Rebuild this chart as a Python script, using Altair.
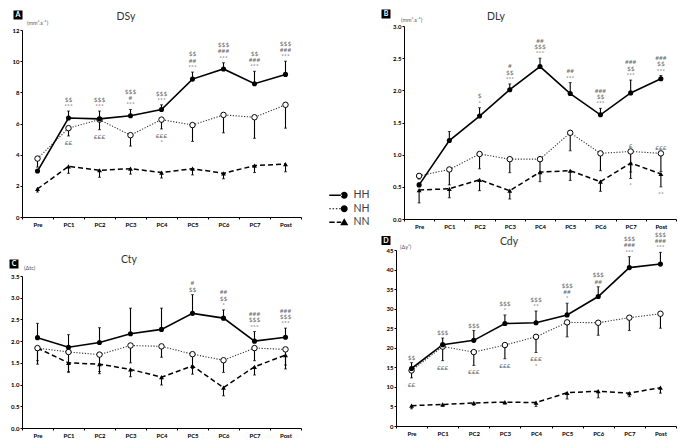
import altair as alt
import pandas as pd

cats = ["Pre", "PC1", "PC2", "PC3", "PC4", "PC5", "PC6", "PC7", "Post"]
groups = ["HH", "NH", "NN"]

# ---- Panel A : DSy (mm2.s-1)
dsy_hh    = [2.95, 6.35, 6.30, 6.50, 6.90, 8.85, 9.50, 8.55, 9.15]
dsy_hh_hi = [3.05, 6.80, 6.80, 6.90, 7.20, 9.30, 9.90, 9.35, 10.00]
dsy_nh    = [3.75, 5.70, 6.25, 5.25, 6.25, 5.90, 6.55, 6.40, 7.20]
dsy_nh_lo = [3.20, 5.20, 5.60, 4.55, 5.65, 4.85, 5.40, 5.05, 5.70]
dsy_nn    = [1.80, 3.25, 3.00, 3.10, 2.85, 3.10, 2.80, 3.30, 3.40]
dsy_nn_lo = [1.60, 2.80, 2.55, 2.75, 2.50, 2.70, 2.45, 2.85, 2.90]
dsy_hh_sig = {"PC1": ["***", "$$"], "PC2": ["***", "$$$"], "PC3": ["***", "#", "$$$"],
              "PC4": ["***", "$$$"], "PC5": ["***", "##", "$$"], "PC6": ["***", "###", "$$$"],
              "PC7": ["***", "###", "$$"], "Post": ["***", "###", "$$$"]}
dsy_nh_sig = {"PC1": ["££"], "PC2": ["£££"], "PC4": ["£££", "*"]}

# ---- Panel B : DLy (mm2.s-1)
dly_hh    = [0.53, 1.22, 1.60, 2.01, 2.37, 1.95, 1.62, 1.96, 2.18]
dly_hh_hi = [0.56, 1.36, 1.73, 2.10, 2.50, 2.12, 1.72, 2.16, 2.23]
dly_nh    = [0.67, 0.77, 1.01, 0.93, 0.93, 1.34, 1.02, 1.05, 1.02]
dly_nh_lo = [0.62, 0.53, 0.78, 0.72, 0.72, 1.06, 0.75, 0.73, 0.74]
dly_nn    = [0.45, 0.47, 0.61, 0.44, 0.73, 0.75, 0.58, 0.87, 0.70]
dly_nn_lo = [0.25, 0.33, 0.44, 0.31, 0.58, 0.60, 0.43, 0.63, 0.50]
dly_hh_sig = {"PC2": ["*", "$"], "PC3": ["***", "$$", "#"], "PC4": ["***", "$$$", "##"],
              "PC5": ["***", "##"], "PC6": ["***", "$$", "###"], "PC7": ["***", "$$", "###"],
              "Post": ["***", "$$", "###"]}
dly_nh_sig_up = {"PC7": ["£"], "Post": ["£££"]}
dly_nn_sig = {"PC7": ["*"], "Post": ["**"]}

# ---- Panel C : Cty
cty_hh    = [2.08, 1.86, 1.97, 2.17, 2.27, 2.64, 2.53, 2.00, 2.09]
cty_hh_hi = [2.41, 2.15, 2.31, 2.76, 2.76, 3.07, 2.72, 2.22, 2.30]
cty_nh    = [1.84, 1.75, 1.69, 1.90, 1.88, 1.70, 1.56, 1.84, 1.81]
cty_nh_lo = [1.47, 1.30, 1.30, 1.50, 1.63, 1.37, 1.28, 1.55, 1.36]
cty_nn    = [1.84, 1.50, 1.47, 1.35, 1.17, 1.43, 0.93, 1.41, 1.68]
cty_nn_lo = [1.55, 1.28, 1.25, 1.18, 0.99, 1.24, 0.74, 1.22, 1.45]
cty_hh_sig = {"PC5": ["$$", "#"], "PC6": ["*", "$$", "##"], "PC7": ["***", "$$$", "###"],
              "Post": ["***", "$$$", "###"]}

# ---- Panel D : Cdy
cdy_hh    = [14.7, 20.8, 21.9, 26.2, 26.4, 28.4, 33.1, 40.5, 41.4]
cdy_hh_hi = [16.2, 22.5, 24.4, 28.4, 29.4, 31.4, 35.6, 43.3, 44.4]
cdy_nh    = [14.2, 20.3, 18.9, 20.7, 22.8, 26.5, 26.4, 27.7, 28.7]
cdy_nh_lo = [12.3, 16.7, 15.5, 17.2, 18.8, 22.8, 23.2, 24.4, 25.0]
cdy_nn    = [5.2, 5.5, 5.9, 6.1, 6.0, 8.5, 8.9, 8.4, 9.8]
cdy_nn_lo = [4.4, 5.0, 5.3, 5.6, 5.0, 6.9, 7.2, 7.5, 8.4]
cdy_hh_sig = {"Pre": ["$$"], "PC1": ["$$$"], "PC2": ["$$$"], "PC3": ["*", "$$$"],
              "PC4": ["**", "$$$"], "PC5": ["*", "##", "$$$"], "PC6": ["##", "$$$"],
              "PC7": ["***", "###", "$$$"], "Post": ["***", "###", "$$$"]}
cdy_nh_sig = {"Pre": ["££"], "PC1": ["£££"], "PC2": ["£££"], "PC3": ["£££"], "PC4": ["£££", "*"]}

FONT = "Lato"

# legend glyphs (all filled shapes): line segment + marker
CIRC = "M-1.15,0A1.15,1.15 0 1,0 1.15,0A1.15,1.15 0 1,0 -1.15,0Z"
legend_paths = [
    "M-5,-0.25H-0.8V0.25H-5Z" + CIRC,
    "M-5,-0.2H-4.5V0.2H-5ZM-3.9,-0.2H-3.4V0.2H-3.9ZM-2.8,-0.2H-2.3V0.2H-2.8ZM-1.7,-0.2H-1.2V0.2H-1.7Z" + CIRC,
    "M-5,-0.25H-3.2V0.25H-5ZM-2.5,-0.25H-1V0.25H-2.5ZM0,-1.35L1.35,1L-1.35,1Z",
]


def sig_rows(sig, anchor, direction):
    rows = []
    for c, lines in sig.items():
        v = anchor[cats.index(c)]
        for i, t in enumerate(lines):
            rows.append({"cat": c, "y": v, "dir": direction, "idx": i, "txt": t})
    return rows


def panel(letter, title, unit, hh, hh_hi, nh, nh_lo, nn, nn_lo, ann, ydom, yvals, yfmt,
          w, h, top, spacer, box, ttl, unt, legend=None):
    df = pd.DataFrame({"cat": cats, "HH": hh, "HH_hi": hh_hi, "NH": nh, "NH_lo": nh_lo,
                       "NN": nn, "NN_lo": nn_lo})
    xenc = alt.X("cat:N", sort=cats,
                 scale=alt.Scale(type="band", domain=cats, paddingInner=0, paddingOuter=0),
                 axis=alt.Axis(title=None, labelAngle=0, tickBand="extent", labelPadding=2))
    if top:
        ysc = alt.Scale(domain=ydom, nice=False, zero=True, range=[h, top])
    else:
        ysc = alt.Scale(domain=ydom, nice=False, zero=True)
    yax = alt.Axis(title=None, values=yvals, format=yfmt, labelPadding=1)

    def Y(f):
        return alt.Y(f, type="quantitative", scale=ysc, axis=yax)

    base = alt.Chart(df).encode(x=xenc)
    layers = [
        base.mark_line(color="#333333", strokeWidth=1.1, strokeDash=[1.2, 1.6]).encode(y=Y("NH")),
        base.mark_line(color="black", strokeWidth=1.5, strokeDash=[5, 3]).encode(y=Y("NN")),
        base.mark_line(color="black", strokeWidth=1.6).encode(y=Y("HH")),
        base.mark_rule(color="black", strokeWidth=1.1).encode(y=Y("HH"), y2="HH_hi:Q"),
        base.mark_rule(color="black", strokeWidth=1.1).encode(y=Y("NH"), y2="NH_lo:Q"),
        base.mark_rule(color="black", strokeWidth=1.1).encode(y=Y("NN"), y2="NN_lo:Q"),
        base.mark_tick(color="black", size=3, thickness=1).encode(y=Y("HH_hi")),
        base.mark_tick(color="black", size=3, thickness=1).encode(y=Y("NH_lo")),
        base.mark_tick(color="black", size=3, thickness=1).encode(y=Y("NN_lo")),
        base.mark_point(shape="triangle-up", filled=True, color="black", size=24, opacity=1).encode(y=Y("NN")),
        base.mark_point(shape="circle", filled=True, fill="white", stroke="black", strokeWidth=1,
                        size=30, opacity=1).encode(y=Y("NH")),
        base.mark_point(shape="circle", filled=True, color="black", size=26, opacity=1).encode(y=Y("HH")),
    ]
    adf = pd.DataFrame(ann)
    combos = sorted(set(zip(adf["dir"], adf["idx"])))
    for d, i in combos:
        dy = -(5 + 6.3 * i) if d == "up" else (7 + 6.3 * i)
        layers.append(
            alt.Chart(adf).transform_filter(f"datum.dir == '{d}' && datum.idx == {i}")
            .mark_text(dy=dy, fontSize=6.5, color="#6b6b6b", font=FONT, baseline="middle")
            .encode(x=xenc, y=Y("y"), text="txt:N")
        )
    deco = pd.DataFrame({"letter": [letter], "title": [title], "unit": [unit]})
    dc = alt.Chart(deco)
    t0 = top or 0
    layers += [
        dc.mark_point(opacity=0, size=1).encode(x=alt.value(spacer[0]), y=alt.value(spacer[1])),
        dc.mark_square(color="black", size=81, opacity=1).encode(x=alt.value(box[0]), y=alt.value(box[1] + t0)),
        dc.mark_text(color="white", fontWeight="bold", fontSize=7, font=FONT, baseline="middle")
          .encode(x=alt.value(box[0]), y=alt.value(box[1] + t0), text="letter:N"),
        dc.mark_text(color="#333333", fontSize=10.5, font=FONT, baseline="middle")
          .encode(x=alt.value(ttl[0]), y=alt.value(ttl[1] + t0), text="title:N"),
        dc.mark_text(color="#555555", fontSize=5.5, font=FONT, align="left", baseline="middle")
          .encode(x=alt.value(unt[0]), y=alt.value(unt[1] + t0), text="unit:N"),
    ]
    if legend:
        leg = pd.DataFrame({"grp": groups, "cat": ["Pre"] * 3, "v": [hh[0], nh[0], nn[0]]})
        layers.append(
            alt.Chart(leg).mark_point(filled=True, color="black", opacity=0).encode(
                x=xenc, y=Y("v"),
                shape=alt.Shape("grp:N", scale=alt.Scale(domain=groups, range=legend_paths),
                                legend=alt.Legend(orient="none", legendX=legend[0], legendY=legend[1],
                                                  title=None, symbolSize=36, symbolFillColor="black",
                                                  symbolStrokeColor="black", symbolStrokeWidth=0,
                                                  symbolOpacity=1, labelFont=FONT, labelFontSize=10.5,
                                                  labelColor="#404040", labelOffset=4, rowPadding=2.5,
                                                  padding=0)))
        )
    return alt.layer(*layers).properties(width=w, height=h)


annA = sig_rows(dsy_hh_sig, dsy_hh_hi, "up") + sig_rows(dsy_nh_sig, dsy_nh_lo, "down")
annB = (sig_rows(dly_hh_sig, dly_hh_hi, "up") + sig_rows(dly_nh_sig_up, dly_nh, "up")
        + sig_rows(dly_nn_sig, dly_nn_lo, "down"))
annC = sig_rows(cty_hh_sig, cty_hh_hi, "up")
annD = sig_rows(cdy_hh_sig, cdy_hh_hi, "up") + sig_rows(cdy_nh_sig, cdy_nh_lo, "down")

pA = panel("A", "DSy", "(mm².s⁻¹)", dsy_hh, dsy_hh_hi, dsy_nh, dsy_nh_lo, dsy_nn, dsy_nn_lo, annA,
           [0, 12], [0, 2, 4, 6, 8, 10, 12], "d", 279, 191, 4,
           spacer=(-13, -17), box=(-4, -15), ttl=(104, -13), unt=(5, -7), legend=(317, 164))
pB = panel("B", "DLy", "(mm².s⁻¹)", dly_hh, dly_hh_hi, dly_nh, dly_nh_lo, dly_nn, dly_nn_lo, annB,
           [0, 3], [0, 0.5, 1, 1.5, 2, 2.5, 3], ".1f", 272, 193, 0,
           spacer=(-23, -17), box=(-18, -12), ttl=(92, -9), unt=(-3, -6.5))
pC = panel("C", "Cty", "(Δtc)", cty_hh, cty_hh_hi, cty_nh, cty_nh_lo, cty_nn, cty_nn_lo, annC,
           [0, 3.5], [0, 0.5, 1, 1.5, 2, 2.5, 3, 3.5], ".1f", 279, 178, 26,
           spacer=(-13, -20), box=(-8, -12), ttl=(107, -16), unt=(2, -8))
pD = panel("D", "Cdy", "(Δy²)", cdy_hh, cdy_hh_hi, cdy_nh, cdy_nh_lo, cdy_nn, cdy_nn_lo, annD,
           [0, 45], [0, 5, 10, 15, 20, 25, 30, 35, 40, 45], "d", 280, 176, 0,
           spacer=(-15, -20), box=(-10, -9.5), ttl=(113, -8), unt=(4, -3))

row1 = alt.hconcat(pA, pB, spacing=78)
row2 = alt.hconcat(pC, pD, spacing=78)
chart = (
    alt.vconcat(row1, row2, spacing=0)
    .properties(padding=0, background="white")
    .configure_view(stroke=None)
    .configure_axis(domainColor="black", domainWidth=1, tickColor="black", tickSize=2,
                    labelFont=FONT, labelFontSize=6, labelFontWeight="bold", labelColor="black",
                    grid=False)
)

chart.save("out.html", embed_options={"renderer": "svg", "actions": False})
